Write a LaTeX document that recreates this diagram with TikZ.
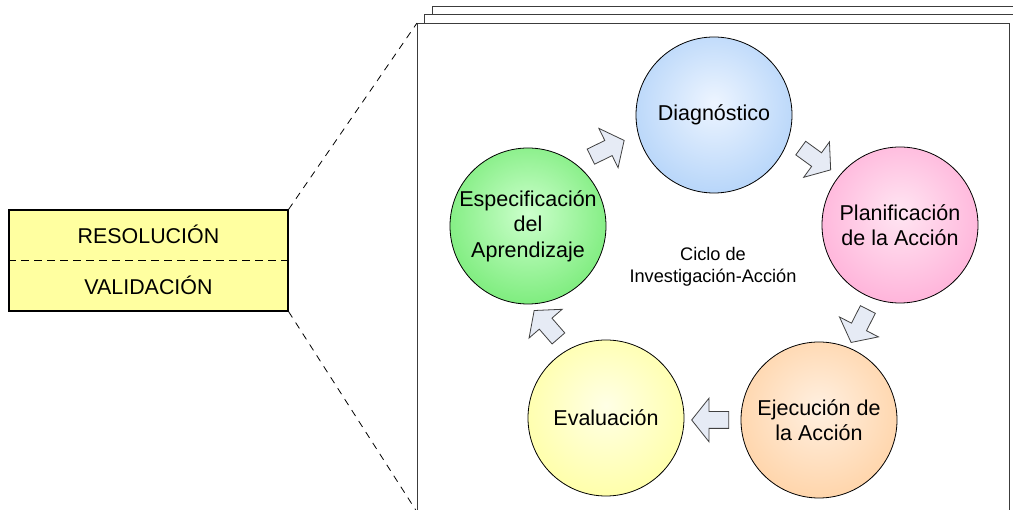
\documentclass[tikz,border=0pt]{standalone}
\usepackage{fontspec}
\setmainfont{Liberation Sans}
\usetikzlibrary{shapes.arrows}

% radial fills for the five stages, lighter towards the middle
\pgfdeclareradialshading{shdiag}{\pgfpoint{0bp}{4bp}}{rgb(0bp)=(0.93,0.96,1); rgb(50bp)=(0.55,0.74,0.96); rgb(70bp)=(0.55,0.74,0.96)}
\pgfdeclareradialshading{shplan}{\pgfpoint{0bp}{4bp}}{rgb(0bp)=(1,0.90,0.95); rgb(50bp)=(1,0.55,0.78); rgb(70bp)=(1,0.55,0.78)}
\pgfdeclareradialshading{shejec}{\pgfpoint{0bp}{4bp}}{rgb(0bp)=(1,0.94,0.88); rgb(50bp)=(1,0.75,0.50); rgb(70bp)=(1,0.75,0.50)}
\pgfdeclareradialshading{sheval}{\pgfpoint{0bp}{4bp}}{rgb(0bp)=(1,1,0.90); rgb(50bp)=(1,1,0.48); rgb(70bp)=(1,1,0.48)}
\pgfdeclareradialshading{shespe}{\pgfpoint{0bp}{4bp}}{rgb(0bp)=(0.80,1,0.80); rgb(50bp)=(0.25,0.87,0.25); rgb(70bp)=(0.25,0.87,0.25)}

\definecolor{boxfill}{RGB}{255,255,160}
\definecolor{arrowfill}{RGB}{230,235,245}
\definecolor{pageline}{RGB}{60,60,60}

\begin{document}
\begin{tikzpicture}[x=1pt,y=-1pt,
  stage/.style={circle, draw=black, line width=0.8pt, minimum size=156pt,
    inner sep=0pt, align=center, font=\fontsize{21.5}{25.5}\selectfont},
  flow/.style={single arrow, draw=black!75, fill=arrowfill, line width=0.8pt,
    minimum height=37pt, minimum width=43pt, inner xsep=0pt, inner ysep=8pt,
    single arrow head extend=13.5pt, single arrow tip angle=103},
  page/.style={draw=pageline, fill=white, line width=1pt},
  lead/.style={draw=black, line width=0.8pt, dash pattern=on 7pt off 6pt},
  boxtext/.style={font=\fontsize{21.4}{24}\selectfont}
]
\useasboundingbox (0,0) rectangle (1013,510);
\clip (0,0) rectangle (1013,510);

% stacked pages
\draw[page] (432,7) rectangle (1030,620);
\draw[page] (424.5,15) rectangle (1022,620);
\node[page, anchor=north west, minimum width=592pt, minimum height=600pt, inner sep=0pt] (pg) at (417,23) {};
\coordinate (pgbottom) at (417,512);

% summary box on the left
\node[draw=black, line width=1.2pt, fill=boxfill, minimum width=279pt,
  minimum height=101pt, inner sep=0pt] (box) at (148.5,260.5) {};
\draw[dashed, line width=0.8pt, dash pattern=on 8pt off 5pt] (box.west) -- (box.east);
\node[boxtext] (res) at (148.5,234) {RESOLUCIÓN};
\node[boxtext] (val) at (148.5,285) {VALIDACIÓN};

% leader lines to the page
\draw[lead] (box.north east) -- (pg.north west);
\draw[lead] (box.south east) -- (pgbottom);

% cycle stages
\node[stage, shading=shdiag] (diag) at (714,115) {Diagnóstico};
\node[stage, shading=shplan] (plan) at (900,225) {Planificación\\de la Acción};
\node[stage, shading=shejec] (ejec) at (819,420) {Ejecución de\\la Acción};
\node[stage, shading=sheval] (eval) at (606,418) {Evaluación};
\node[stage, shading=shespe] (espe) at (528,226) {Especificación\\del\\Aprendizaje};

\node[align=center, font=\fontsize{18.2}{22}\selectfont] (title) at (713,267)
  {Ciclo de\\Investigación-Acción};

% block arrows between stages
\node[flow, rotate=26] (a1) at (604.5,150) {};
\node[flow, rotate=-36] (a2) at (813,157) {};
\node[flow, rotate=-117] (a3) at (861,323) {};
\node[flow, rotate=180] (a4) at (713.5,420) {};
\node[flow, rotate=131] (a5) at (548.5,327) {};
\end{tikzpicture}
\end{document}
